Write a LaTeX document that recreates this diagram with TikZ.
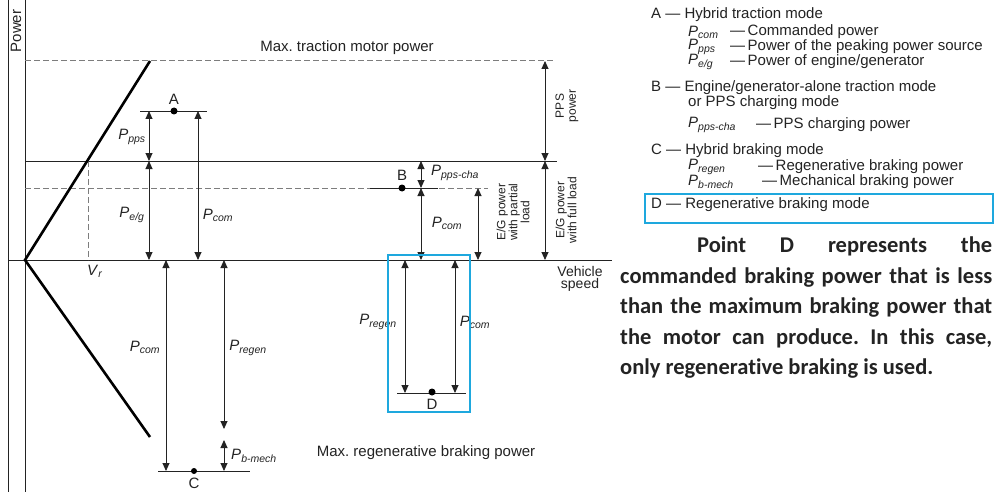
\documentclass[tikz,border=0pt]{standalone}
\usepackage{fontspec}
\setmainfont{Liberation Sans}
\newfontfamily\parfont[Ligatures={NoCommon}]{Carlito}
\usetikzlibrary{arrows.meta}
\definecolor{ink}{RGB}{35,35,35}
\definecolor{boxblue}{RGB}{30,168,222}
\definecolor{dashgray}{RGB}{125,125,125}
\newcommand\Psb[1]{\textit{P}\textsubscript{\textit{#1}}}
\begin{document}
\frenchspacing
\begin{tikzpicture}[x=1pt,y=-1pt,
  thinline/.style={draw=ink,line width=0.9pt},
  dashline/.style={draw=dashgray,line width=1pt,dash pattern=on 6pt off 3pt},
  curveline/.style={draw=black,line width=2.6pt},
  dim/.style={draw=ink,line width=0.9pt,{Triangle[width=7pt,length=8pt]}-{Triangle[width=7pt,length=8pt]}},
  lbl/.style={font=\fontsize{15}{15}\selectfont,text=ink,inner sep=0pt},
  sym/.style={font=\fontsize{15}{15}\selectfont,text=ink,inner sep=0pt},
  rot/.style={font=\fontsize{12}{12}\selectfont,text=ink,rotate=90,align=center,inner sep=0pt},
  leg/.style={font=\fontsize{15}{15}\selectfont,text=ink,anchor=west,inner sep=0pt},
  pdot/.style={circle,fill=black,inner sep=0pt,minimum size=7pt},
  bluebox/.style={draw=boxblue,line width=2.8pt},
]
\useasboundingbox (0,0) rectangle (995,492);
\fill[white] (0,0) rectangle (995,492);

% coordinates
\coordinate (Ltop) at (8,0); \coordinate (Lbot) at (8,492);
\coordinate (Itop) at (25,0); \coordinate (Ibot) at (25,492);
\coordinate (O) at (25,260);
\coordinate (hL) at (8,260); \coordinate (hR) at (612,260);
\coordinate (cT) at (150,61); \coordinate (cB) at (150,437);
\coordinate (mtL) at (25,61); \coordinate (mtR) at (555,61);
\coordinate (egL) at (25,161); \coordinate (egR) at (557,161);
\coordinate (plL) at (25,188); \coordinate (plR) at (488,188);
\coordinate (bsL) at (370,188); \coordinate (bsR) at (438,188);
\coordinate (vrT) at (88,161); \coordinate (vrB) at (88,260);
\coordinate (aL) at (140,111); \coordinate (aR) at (207,111);
\coordinate (a1t) at (149,111); \coordinate (a1m) at (149,161); \coordinate (a1b) at (149,260);
\coordinate (a2t) at (198,111); \coordinate (a2b) at (198,260);
\coordinate (c1t) at (166,260); \coordinate (c1b) at (166,471);
\coordinate (c2t) at (224,260); \coordinate (c2m) at (224,429);
\coordinate (c3t) at (224,440); \coordinate (c3b) at (224,471);
\coordinate (cL) at (158,471); \coordinate (cR) at (250,471);
\coordinate (b1t) at (421,161); \coordinate (b1m) at (421,188); \coordinate (b1b) at (421,260);
\coordinate (b2t) at (478,188); \coordinate (b2b) at (478,260);
\coordinate (b3t) at (545,61); \coordinate (b3m) at (545,161); \coordinate (b3b) at (545,260);
\coordinate (dbA) at (388,255); \coordinate (dbB) at (470,412);
\coordinate (d1t) at (405,260); \coordinate (d1b) at (405,393);
\coordinate (d2t) at (455,260); \coordinate (d2b) at (455,393);
\coordinate (dL) at (397,393); \coordinate (dR) at (466,393);
\coordinate (lbA) at (645,194); \coordinate (lbB) at (993,223);

% axes
\draw[thinline] (Ltop) -- (Lbot);
\draw[thinline] (Itop) -- (Ibot);
\draw[thinline] (hL) -- (hR);
\node[lbl,rotate=90] (power) at (16,31) {Power};
\node[lbl,anchor=base,font=\fontsize{14}{14}\selectfont] (vsp1) at (580,276) {Vehicle};
\node[lbl,anchor=base,font=\fontsize{14}{14}\selectfont] (vsp2) at (580,288.5) {speed};

% reference lines
\draw[dashline] (mtL) -- (mtR);
\draw[thinline] (egL) -- (egR);
\draw[dashline] (plL) -- (plR);
\draw[thinline] (bsL) -- (bsR);
\draw[dashline] (vrT) -- (vrB);
\node[lbl] (maxtr) at (347,48) {Max. traction motor power};
\node[lbl] (maxreg) at (426,453) {Max. regenerative braking power};
\node[sym] (vr) at (95,271) {\textit{V}\textsubscript{\textit{r}}};

% motor curve
\draw[curveline] (cT) -- (O) -- (cB);

% point A
\draw[thinline] (aL) -- (aR);
\node[pdot] (ptA) at (174,111) {};
\node[lbl] (labA) at (174,99) {A};
\draw[dim] (a1t) -- (a1m);
\draw[dim] (a1m) -- (a1b);
\draw[dim] (a2t) -- (a2b);
\node[sym] (lpps) at (132,137) {\Psb{pps}};
\node[sym] (leg1) at (132,215) {\Psb{e/g}};
\node[sym] (lcomA) at (218,215) {\Psb{com}};

% point C
\draw[thinline] (cL) -- (cR);
\draw[dim] (c1t) -- (c1b);
\draw[dim] (c2t) -- (c2m);
\draw[dim] (c3t) -- (c3b);
\node[pdot,minimum size=6pt] (ptC) at (194,471) {};
\node[lbl] (labC) at (194,483) {C};
\node[sym] (lcomC) at (145,347) {\Psb{com}};
\node[sym] (lregC) at (248,348) {\Psb{regen}};
\node[sym] (lbm) at (254,456) {\Psb{b-mech}};

% point B
\node[pdot] (ptB) at (402,188) {};
\node[lbl] (labB) at (402,175) {B};
\draw[dim] (b1t) -- (b1m);
\draw[dim] (b1m) -- (b1b);
\draw[dim] (b2t) -- (b2b);
\draw[dim] (b3t) -- (b3m);
\draw[dim] (b3m) -- (b3b);
\node[sym] (lppscha) at (455,173) {\Psb{pps-cha}};
\node[sym] (lcomB) at (447,223) {\Psb{com}};
\node[rot] (egpart) at (513,212) {E/G power\\with partial\\load};
\node[rot] (egfull) at (566,210) {E/G power\\with full load};
\node[rot] (ppspow) at (567,106) {PPS\\power};

% point D
\draw[thinline] (dL) -- (dR);
\draw[dim] (d1t) -- (d1b);
\draw[dim] (d2t) -- (d2b);
\node[pdot] (ptD) at (432,392) {};
\node[lbl] (labD) at (432,404) {D};
\node[sym] (lregD) at (378,322) {\Psb{regen}};
\node[sym] (lcomD) at (475,322) {\Psb{com}};
\draw[bluebox] (dbA) rectangle (dbB);

% legend
\node[leg] (lgA) at (651,15) {A — Hybrid traction mode};
\node[leg] (lgPc) at (688,32) {\Psb{com}};
\node[leg] (lgPcT) at (730,32) {—\,Commanded power};
\node[leg] (lgPp) at (688,47) {\Psb{pps}};
\node[leg] (lgPpT) at (730,47) {—\,Power of the peaking power source};
\node[leg] (lgPe) at (688,62) {\Psb{e/g}};
\node[leg] (lgPeT) at (730,62) {—\,Power of engine/generator};
\node[leg] (lgB) at (651,88) {B — Engine/generator-alone traction mode};
\node[leg] (lgB2) at (688,103) {or PPS charging mode};
\node[leg] (lgPch) at (688,125) {\Psb{pps-cha}};
\node[leg] (lgPchT) at (756,125) {—\,PPS charging power};
\node[leg] (lgC) at (651,151) {C — Hybrid braking mode};
\node[leg] (lgPr) at (688,167) {\Psb{regen}};
\node[leg] (lgPrT) at (758,167) {—\,Regenerative braking power};
\node[leg] (lgPb) at (688,182) {\Psb{b-mech}};
\node[leg] (lgPbT) at (762,182) {—\,Mechanical braking power};
\node[leg] (lgD) at (651,205) {D — Regenerative braking mode};
\draw[bluebox] (lbA) rectangle (lbB);

% paragraph
\node[anchor=north west,text width=372pt,align=justify,inner sep=0pt,
      font=\parfont\bfseries\fontsize{22.5}{30.5}\selectfont,text=ink] (para) at (620,237)
  {\hspace*{77pt}Point D represents the\linebreak
   commanded braking power that is less\linebreak
   than the maximum braking power that\linebreak
   the motor can produce. In this case,\linebreak
   only regenerative braking is used.};
\end{tikzpicture}
\end{document}
